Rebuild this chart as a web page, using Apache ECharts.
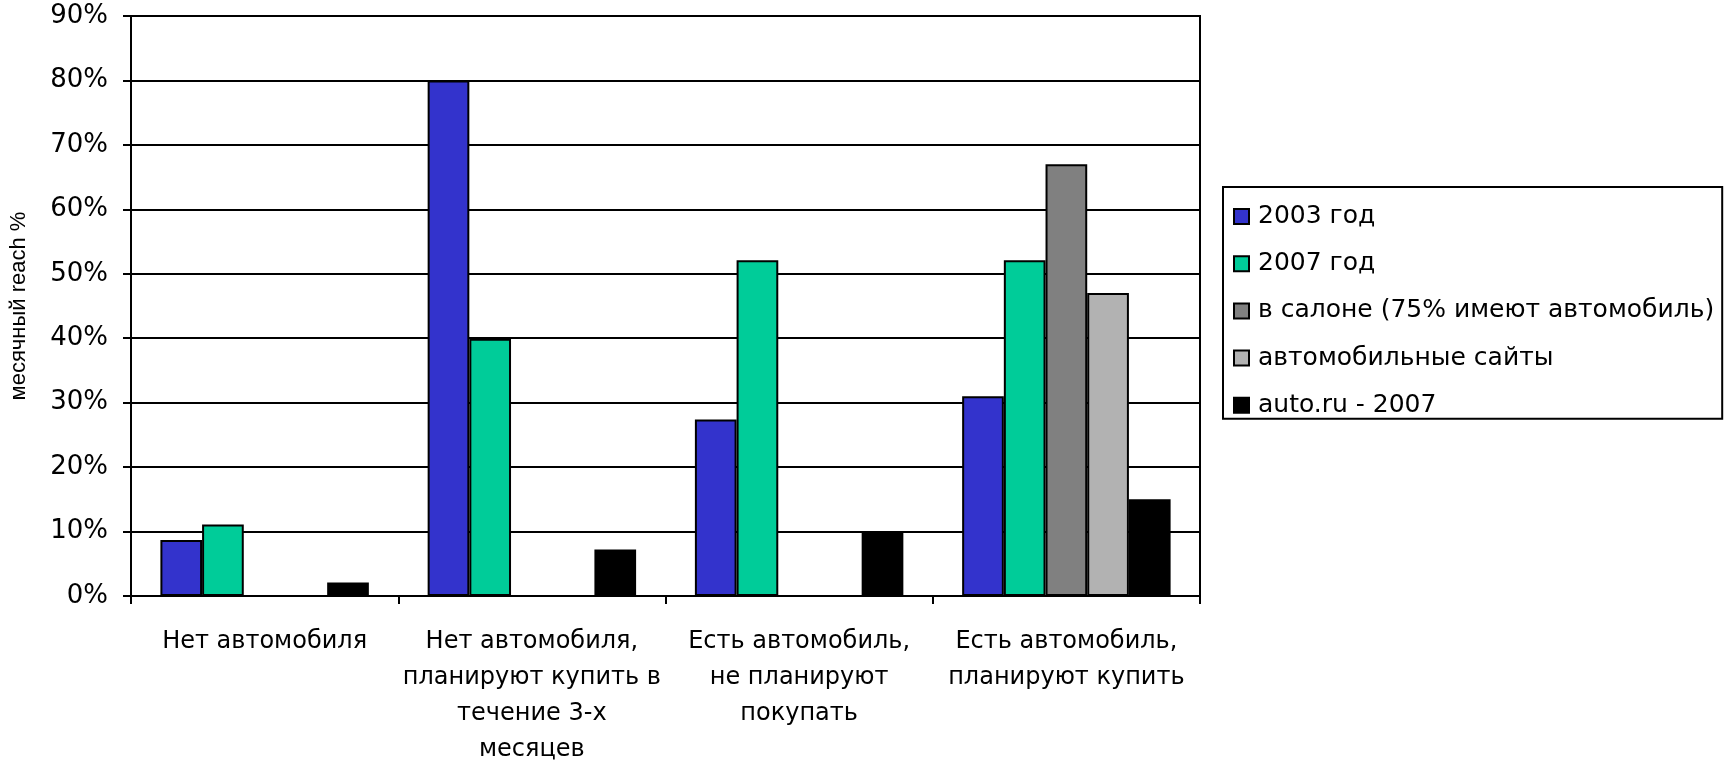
<!DOCTYPE html>
<html>
<head>
<meta charset="utf-8">
<script src="https://cdn.jsdelivr.net/npm/echarts@6/dist/echarts.min.js"></script>
<style>
html,body{margin:0;padding:0;background:#fff;}
#chart{width:1725px;height:762px;}
</style>
</head>
<body>
<div id="chart"></div>
<script>
const categories = [
  "Нет автомобиля",
  "Нет автомобиля,\nпланируют купить в\nтечение 3-х\nмесяцев",
  "Есть автомобиль,\nне планируют\nпокупать",
  "Есть автомобиль,\nпланируют купить"
];
const seriesNames = ["2003 год", "2007 год", "в салоне (75% имеют автомобиль)", "автомобильные сайты", "auto.ru - 2007"];
const values2003 = [8.7, 80, 27.4, 31];
const values2007 = [11.1, 39.9, 52.1, 52.1];
const valuesSalon = [null, null, null, 67];
const valuesSites = [null, null, null, 47];
const valuesAutoRu = [2.1, 7.2, 10.1, 15];
const yTicks = [0, 10, 20, 30, 40, 50, 60, 70, 80, 90];

const colors = ["#3333CC", "#00CC99", "#808080", "#B2B2B2", "#000000"];
const allValues = [values2003, values2007, valuesSalon, valuesSites, valuesAutoRu];
const FONT = "DejaVu Sans";

const chart = echarts.init(document.getElementById('chart'));
chart.setOption({
  animation: false,
  backgroundColor: '#fff',
  textStyle: { fontFamily: FONT, color: '#000' },
  grid: {
    left: 131, right: 525, top: 16, bottom: 166,
    containLabel: false,
    outerBoundsMode: 'none',
    show: true, borderColor: '#000', borderWidth: 2, backgroundColor: 'transparent'
  },
  legend: {
    orient: 'vertical',
    left: 1223, top: 187,
    borderColor: '#000', borderWidth: 2,
    padding: [17, 8, 1, 10],
    itemWidth: 15, itemHeight: 15,
    itemGap: 22.2,
    icon: 'rect',
    textStyle: { fontFamily: FONT, fontSize: 25, color: '#000', lineHeight: 24, padding: [0, 0, 0, 4] },
    data: seriesNames
  },
  xAxis: {
    type: 'category',
    data: categories,
    axisLine: { lineStyle: { color: '#000', width: 2 } },
    axisTick: { show: true, length: 8, lineStyle: { color: '#000', width: 2 } },
    axisLabel: { fontFamily: FONT, fontSize: 24, color: '#000', lineHeight: 36, margin: 28, interval: 0 }
  },
  yAxis: {
    type: 'value',
    min: yTicks[0], max: yTicks[yTicks.length - 1], interval: 10,
    name: 'месячный reach %',
    nameLocation: 'middle',
    nameRotate: 90,
    nameGap: 101,
    nameTextStyle: { fontFamily: 'Liberation Sans', fontSize: 22, color: '#000' },
    axisLine: { show: true, lineStyle: { color: '#000', width: 2 } },
    axisTick: { show: true, length: 8, lineStyle: { color: '#000', width: 2 } },
    axisLabel: { fontFamily: FONT, fontSize: 26, color: '#000', margin: 23, formatter: '{value}%' },
    splitLine: { show: true, lineStyle: { color: '#000', width: 2 } }
  },
  series: seriesNames.map((name, i) => ({
    name: name,
    type: 'bar',
    data: allValues[i],
    barGap: '0%',
    barCategoryGap: '22%',
    itemStyle: { color: colors[i], borderColor: '#000', borderWidth: 2 }
  }))
});
</script>
</body>
</html>
